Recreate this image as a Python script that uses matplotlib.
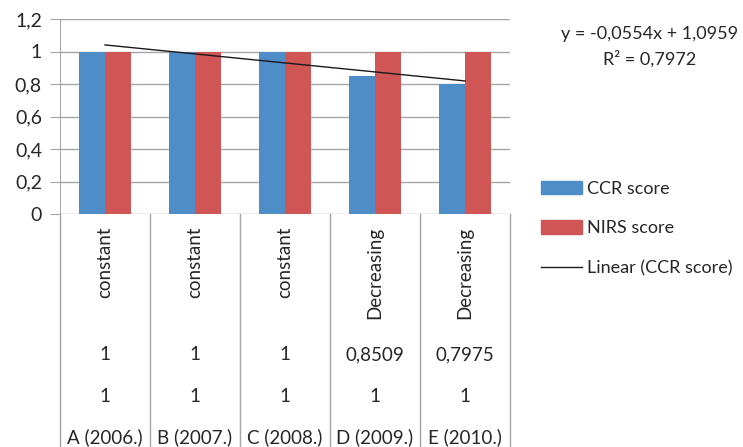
import numpy as np
import matplotlib
matplotlib.use("Agg")
import matplotlib.pyplot as plt
from matplotlib.transforms import blended_transform_factory
from matplotlib.patches import Patch
from matplotlib.lines import Line2D

categories = ["A (2006.)", "B (2007.)", "C (2008.)", "D (2009.)", "E (2010.)"]
trend_labels = ["constant", "constant", "constant", "Decreasing", "Decreasing"]
ccr_score = [1, 1, 1, 0.8509, 0.7975]
nirs_score = [1, 1, 1, 1, 1]
ccr_labels = ["1", "1", "1", "0,8509", "0,7975"]
nirs_labels = ["1", "1", "1", "1", "1"]
yticks = [0, 0.2, 0.4, 0.6, 0.8, 1.0, 1.2]
ytick_labels = ["0", "0,2", "0,4", "0,6", "0,8", "1", "1,2"]

plt.rcParams['font.family'] = ['Lato', 'DejaVu Sans']
TXT = '#262626'
GRID = '#A6A6A6'
BLUE = '#4F8DC8'
RED = '#D05555'
FS = 13.5
LFS = 13

W, H = 743, 447
fig = plt.figure(figsize=(W / 100, H / 100), dpi=100)
x0, x1, y0, y1 = 60, 510, 214, 19
ax = fig.add_axes([x0 / W, (H - y0) / H, (x1 - x0) / W, (y0 - y1) / H])

x = np.arange(len(categories))
bw = 0.285
ax.bar(x - bw / 2, ccr_score, bw, color=BLUE, zorder=3)
ax.bar(x + bw / 2, nirs_score, bw, color=RED, zorder=3)

# linear trendline of CCR score (Excel x = 1..n)
xs = np.arange(1, len(ccr_score) + 1)
slope, intercept = np.polyfit(xs, ccr_score, 1)
ax.plot(x, slope * xs + intercept, color='#1a1a1a', lw=1.0, zorder=4)
ss_res = np.sum((np.array(ccr_score) - (slope * xs + intercept)) ** 2)
ss_tot = np.sum((np.array(ccr_score) - np.mean(ccr_score)) ** 2)
r2 = 1 - ss_res / ss_tot

ax.set_xlim(-0.5, len(categories) - 0.5)
ax.set_ylim(0, 1.2)
ax.set_yticks(yticks)
ax.set_yticklabels(ytick_labels, fontsize=14, color=TXT)
ax.tick_params(axis='y', length=7, color=GRID, pad=6)
ax.set_xticks([])
ax.grid(axis='y', color=GRID, lw=1.0, zorder=0)
for s in ['top', 'right', 'bottom']:
    ax.spines[s].set_visible(False)
ax.spines['left'].set_color(GRID)

# data table below the axis
tr = blended_transform_factory(ax.transData, fig.transFigure)
def fy(py):
    return 1 - py / H
for b in np.arange(-0.5, len(categories), 1.0):
    ax.plot([b, b], [fy(y0), 0], color=GRID, lw=1.0, transform=tr, clip_on=False)
for i in range(len(categories)):
    ax.text(i, fy(227), trend_labels[i], rotation=90, ha='center', va='top',
            fontsize=FS, color=TXT, transform=tr)
    ax.text(i, fy(355), ccr_labels[i], ha='center', va='center', fontsize=FS, color=TXT, transform=tr)
    ax.text(i, fy(397), nirs_labels[i], ha='center', va='center', fontsize=FS, color=TXT, transform=tr)
    ax.text(i, fy(437), categories[i], ha='center', va='center', fontsize=FS, color=TXT, transform=tr)

# trendline equation
eq = "y = -{:.4f}x + {:.4f}".format(abs(slope), intercept).replace('.', ',')
fig.text(650 / W, fy(34), eq, ha='center', va='center', fontsize=13, color=TXT)
fig.text(650 / W, fy(59), "R² = {:.4f}".format(r2).replace('.', ','), ha='center', va='center',
         fontsize=13, color=TXT)

# legend
handles = [Patch(color=BLUE), Patch(color=RED), Line2D([0], [0], color='#1a1a1a', lw=1.0)]
labels = ["CCR score", "NIRS score", "Linear (CCR score)"]
fig.legend(handles, labels, loc='upper left', bbox_to_anchor=(537 / W, fy(177)),
           frameon=False, fontsize=LFS, labelcolor=TXT, handlelength=2.3, handleheight=0.8,
           labelspacing=1.3, handletextpad=0.25, borderaxespad=0, borderpad=0.2)

fig.savefig("out.png", dpi=100)
